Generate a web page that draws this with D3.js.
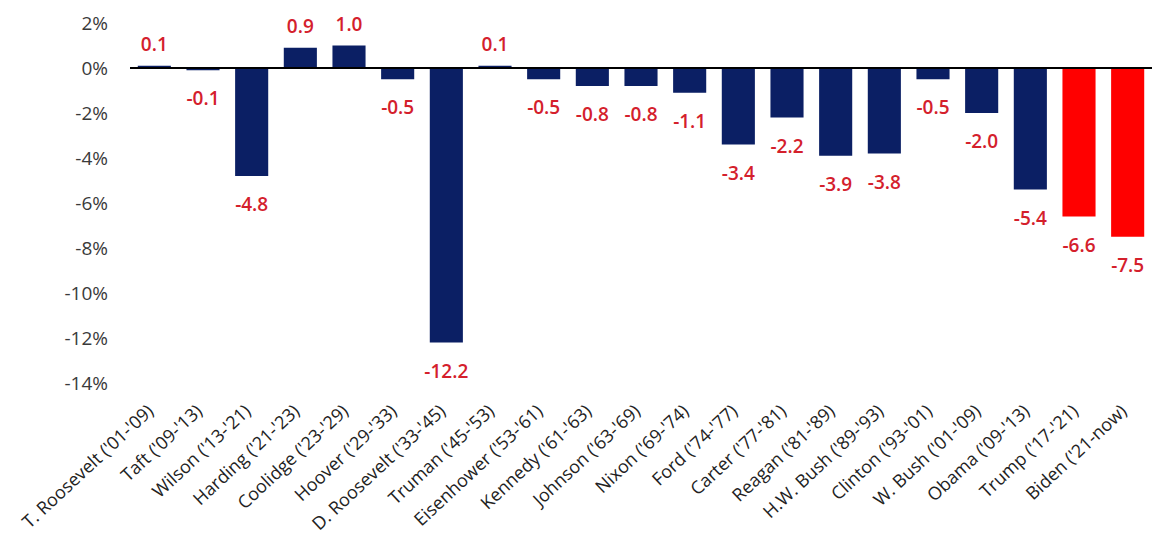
<!DOCTYPE html>
<html>
<head>
<meta charset="utf-8">
<script src="https://cdn.jsdelivr.net/npm/d3@7"></script>
<style>
  html, body { margin: 0; padding: 0; background: #ffffff; }
  svg { display: block; }
</style>
</head>
<body>
<svg id="chart" width="1152" height="546"></svg>
<script>
// Presidents and their term labels
const categories = [
  "T. Roosevelt ('01-'09)", "Taft ('09-'13)", "Wilson ('13-'21)", "Harding ('21-'23)",
  "Coolidge ('23-'29)", "Hoover ('29-'33)", "D. Roosevelt ('33-'45)", "Truman ('45-'53)",
  "Eisenhower ('53-'61)", "Kennedy ('61-'63)", "Johnson ('63-'69)", "Nixon ('69-'74)",
  "Ford ('74-'77)", "Carter ('77-'81)", "Reagan ('81-'89)", "H.W. Bush ('89-'93)",
  "Clinton ('93-'01)", "W. Bush ('01-'09)", "Obama ('09-'13)", "Trump ('17-'21)",
  "Biden ('21-now)"
];
// Average budget balance, % of GDP
const values = [0.1, -0.1, -4.8, 0.9, 1.0, -0.5, -12.2, 0.1, -0.5, -0.8, -0.8, -1.1,
  -3.4, -2.2, -3.9, -3.8, -0.5, -2.0, -5.4, -6.6, -7.5];
// Terms drawn in the highlight colour
const highlighted = ["Trump ('17-'21)", "Biden ('21-now)"];
// Y axis ticks (percent)
const yTicks = [2, 0, -2, -4, -6, -8, -10, -12, -14];

const navy = "#0b1f64";
const red = "#ff0000";
const labelRed = "#d4202c";

const svg = d3.select("#chart");

const x = d3.scaleBand()
  .domain(categories)
  .range([130, 1152])
  .paddingInner(0.32)
  .paddingOuter(0.16);

const y = d3.scaleLinear()
  .domain([-14, 2])
  .range([383, 23]);

// Y axis tick labels (no axis line)
const yAxis = d3.axisLeft(y).tickValues(yTicks).tickSize(0).tickPadding(0)
  .tickFormat(d => d + "%");
const gy = svg.append("g").attr("transform", "translate(108,0)").call(yAxis);
gy.select(".domain").remove();
gy.selectAll("text")
  .attr("font-family", "'Open Sans', sans-serif")
  .attr("font-size", 19)
  .attr("fill", "#3a3a3a");

// Bars
const data = categories.map((c, i) => ({ name: c, value: values[i] }));
svg.append("g").selectAll("rect")
  .data(data)
  .join("rect")
  .attr("x", d => x(d.name))
  .attr("width", x.bandwidth())
  .attr("y", d => Math.min(y(d.value), y(0)))
  .attr("height", d => Math.abs(y(d.value) - y(0)))
  .attr("fill", d => highlighted.includes(d.name) ? red : navy);

// Zero line
svg.append("line")
  .attr("x1", 130).attr("x2", 1152)
  .attr("y1", y(0)).attr("y2", y(0))
  .attr("stroke", "#000").attr("stroke-width", 2);

// Value labels (plain hyphen for negatives)
svg.append("g").selectAll("text")
  .data(data)
  .join("text")
  .attr("x", d => x(d.name) + x.bandwidth() / 2)
  .attr("y", d => d.value >= 0 ? y(d.value) - 15 : y(d.value) + 35)
  .attr("text-anchor", "middle")
  .attr("font-family", "'Open Sans', sans-serif")
  .attr("font-weight", 600)
  .attr("font-size", 19)
  .attr("fill", labelRed)
  .text(d => d.value.toFixed(1));

// X axis category labels, rotated
const xAxis = d3.axisBottom(x).tickSize(0).tickPadding(0);
const gx = svg.append("g").attr("transform", "translate(0,400)").call(xAxis);
gx.select(".domain").remove();
gx.selectAll("text")
  .attr("font-family", "'Open Sans', sans-serif")
  .attr("font-size", 18)
  .attr("fill", "#222")
  .attr("text-anchor", "end")
  .attr("dy", "0.35em")
  .attr("transform", "translate(-4,8) rotate(-43)");
</script>
</body>
</html>
